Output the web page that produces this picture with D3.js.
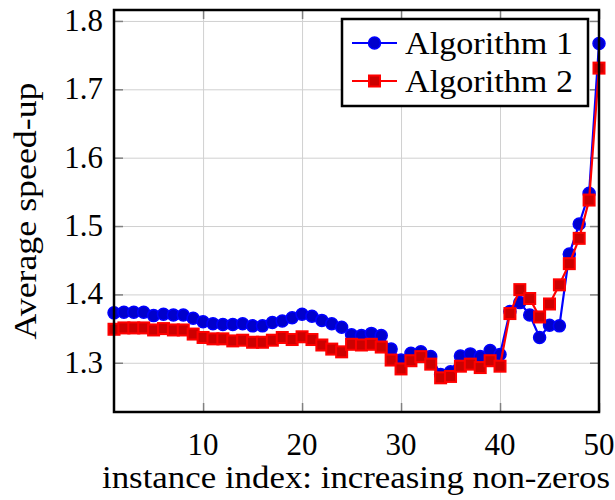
<!DOCTYPE html>
<html>
<head>
<meta charset="utf-8">
<script src="https://cdn.jsdelivr.net/npm/d3@7"></script>
<style>
  body { margin: 0; background: #fff; }
  svg text { font-family: "Liberation Serif", serif; fill: #000; }
  .grid line { stroke: #d0d0d0; stroke-width: 1; }
  .grid path { display: none; }
  .ticks line { stroke: #808080; stroke-width: 1.5; }
  .ticks path { display: none; }
</style>
</head>
<body>
<svg id="chart" width="615" height="500"></svg>
<script>
const instances = d3.range(1, 51);

const algorithm1 = [
  1.373, 1.374, 1.374, 1.374, 1.369, 1.371, 1.370, 1.370, 1.365, 1.360,
  1.357, 1.356, 1.356, 1.357, 1.354, 1.354, 1.359, 1.361, 1.366, 1.371,
  1.368, 1.362, 1.357, 1.352, 1.341, 1.340, 1.343, 1.340, 1.320, 1.304,
  1.314, 1.316, 1.309, 1.283, 1.287, 1.310, 1.313, 1.309, 1.318, 1.312,
  1.375, 1.388, 1.370, 1.337, 1.355, 1.354, 1.459, 1.503, 1.548, 1.767
];

const algorithm2 = [
  1.349, 1.351, 1.351, 1.351, 1.348, 1.350, 1.348, 1.348, 1.342, 1.337,
  1.335, 1.335, 1.332, 1.333, 1.330, 1.330, 1.333, 1.337, 1.334, 1.338,
  1.334, 1.326, 1.320, 1.316, 1.327, 1.326, 1.327, 1.323, 1.304, 1.291,
  1.303, 1.309, 1.298, 1.278, 1.280, 1.295, 1.298, 1.293, 1.303, 1.295,
  1.372, 1.407, 1.394, 1.367, 1.386, 1.414, 1.445, 1.482, 1.538, 1.731
];

const xTicks = [10, 20, 30, 40, 50];
const yTicks = [1.3, 1.4, 1.5, 1.6, 1.7, 1.8];
const seriesNames = ["Algorithm 1", "Algorithm 2"];

const svg = d3.select("#chart");
const plotLeft = 114, plotRight = 599, plotTop = 10, plotBottom = 412;
const plotWidth = plotRight - plotLeft, plotHeight = plotBottom - plotTop;

const x = d3.scaleLinear().domain([1, 50]).range([plotLeft, plotRight]);
const y = d3.scaleLinear().domain([1.228, 1.816]).range([plotBottom, plotTop]);

// grid
svg.append("g")
  .attr("class", "grid")
  .attr("transform", `translate(0,${plotTop})`)
  .call(d3.axisBottom(x).tickValues(xTicks).tickFormat(d => null)
    .tickSizeOuter(0).tickSizeInner(plotHeight));

svg.append("g")
  .attr("class", "grid")
  .attr("transform", `translate(${plotLeft},0)`)
  .call(d3.axisRight(y).tickValues(yTicks).tickFormat(d => null)
    .tickSizeOuter(0).tickSizeInner(plotWidth));

// inner tick marks on all four sides
const tickLen = 9;
svg.append("g").attr("class", "ticks")
  .attr("transform", `translate(0,${plotBottom})`)
  .call(d3.axisTop(x).tickValues(xTicks).tickFormat(d => null).tickSizeOuter(0).tickSizeInner(tickLen));
svg.append("g").attr("class", "ticks")
  .attr("transform", `translate(0,${plotTop})`)
  .call(d3.axisBottom(x).tickValues(xTicks).tickFormat(d => null).tickSizeOuter(0).tickSizeInner(tickLen));
svg.append("g").attr("class", "ticks")
  .attr("transform", `translate(${plotLeft},0)`)
  .call(d3.axisRight(y).tickValues(yTicks).tickFormat(d => null).tickSizeOuter(0).tickSizeInner(tickLen));
svg.append("g").attr("class", "ticks")
  .attr("transform", `translate(${plotRight},0)`)
  .call(d3.axisLeft(y).tickValues(yTicks).tickFormat(d => null).tickSizeOuter(0).tickSizeInner(tickLen));

// tick labels
svg.append("g").selectAll("text")
  .data(xTicks)
  .join("text")
  .attr("x", d => x(d))
  .attr("y", 455)
  .attr("text-anchor", "middle")
  .style("font-size", "31px")
  .text(d => d);

svg.append("g").selectAll("text")
  .data(yTicks)
  .join("text")
  .attr("x", 103)
  .attr("y", d => y(d) + 10)
  .attr("text-anchor", "end")
  .style("font-size", "31px")
  .text(d => d.toFixed(1));

// axis labels
svg.append("text")
  .attr("x", 356)
  .attr("y", 488)
  .attr("text-anchor", "middle")
  .style("font-size", "32px")
  .attr("textLength", 508)
  .attr("lengthAdjust", "spacingAndGlyphs")
  .text("instance index: increasing non-zeros");

svg.append("text")
  .attr("transform", `translate(36,${(plotTop + plotBottom) / 2}) rotate(-90)`)
  .attr("text-anchor", "middle")
  .style("font-size", "32px")
  .attr("textLength", 257)
  .attr("lengthAdjust", "spacingAndGlyphs")
  .text("Average speed-up");

// series
const line = d3.line().x((d, i) => x(instances[i])).y(d => y(d));

svg.append("path")
  .datum(algorithm1)
  .attr("fill", "none")
  .attr("stroke", "#0000ff")
  .attr("stroke-width", 2.2)
  .attr("d", line);

svg.append("g").selectAll("circle")
  .data(algorithm1)
  .join("circle")
  .attr("cx", (d, i) => x(instances[i]))
  .attr("cy", d => y(d))
  .attr("r", 6)
  .attr("fill", "#0000cc")
  .attr("stroke", "#0000ff")
  .attr("stroke-width", 1.5);

svg.append("path")
  .datum(algorithm2)
  .attr("fill", "none")
  .attr("stroke", "#ff0000")
  .attr("stroke-width", 2.2)
  .attr("d", line);

const sq = 11;
svg.append("g").selectAll("rect")
  .data(algorithm2)
  .join("rect")
  .attr("x", (d, i) => x(instances[i]) - sq / 2)
  .attr("y", d => y(d) - sq / 2)
  .attr("width", sq)
  .attr("height", sq)
  .attr("fill", "#cc0000")
  .attr("stroke", "#ff0000")
  .attr("stroke-width", 2);

// frame
svg.append("rect")
  .attr("x", plotLeft).attr("y", plotTop)
  .attr("width", plotWidth).attr("height", plotHeight)
  .attr("fill", "none")
  .attr("stroke", "#000")
  .attr("stroke-width", 2.5);

// legend
const legend = svg.append("g");
legend.append("rect")
  .attr("x", 342).attr("y", 19)
  .attr("width", 246).attr("height", 87)
  .attr("fill", "#fff")
  .attr("stroke", "#000")
  .attr("stroke-width", 2.5);

const rows = legend.selectAll("g")
  .data(seriesNames)
  .join("g")
  .attr("transform", (d, i) => `translate(0,${43 + i * 38})`);

rows.append("line")
  .attr("x1", 352).attr("x2", 397)
  .attr("stroke", (d, i) => i === 0 ? "#0000ff" : "#ff0000")
  .attr("stroke-width", 2.2);

rows.filter((d, i) => i === 0).append("circle")
  .attr("cx", 374.5).attr("r", 6)
  .attr("fill", "#0000cc").attr("stroke", "#0000ff").attr("stroke-width", 1.5);

rows.filter((d, i) => i === 1).append("rect")
  .attr("x", 374.5 - sq / 2).attr("y", -sq / 2)
  .attr("width", sq).attr("height", sq)
  .attr("fill", "#cc0000").attr("stroke", "#ff0000").attr("stroke-width", 2);

rows.append("text")
  .attr("x", 405)
  .attr("y", 11)
  .style("font-size", "32px")
  .attr("textLength", 168)
  .attr("lengthAdjust", "spacingAndGlyphs")
  .text(d => d);
</script>
</body>
</html>
